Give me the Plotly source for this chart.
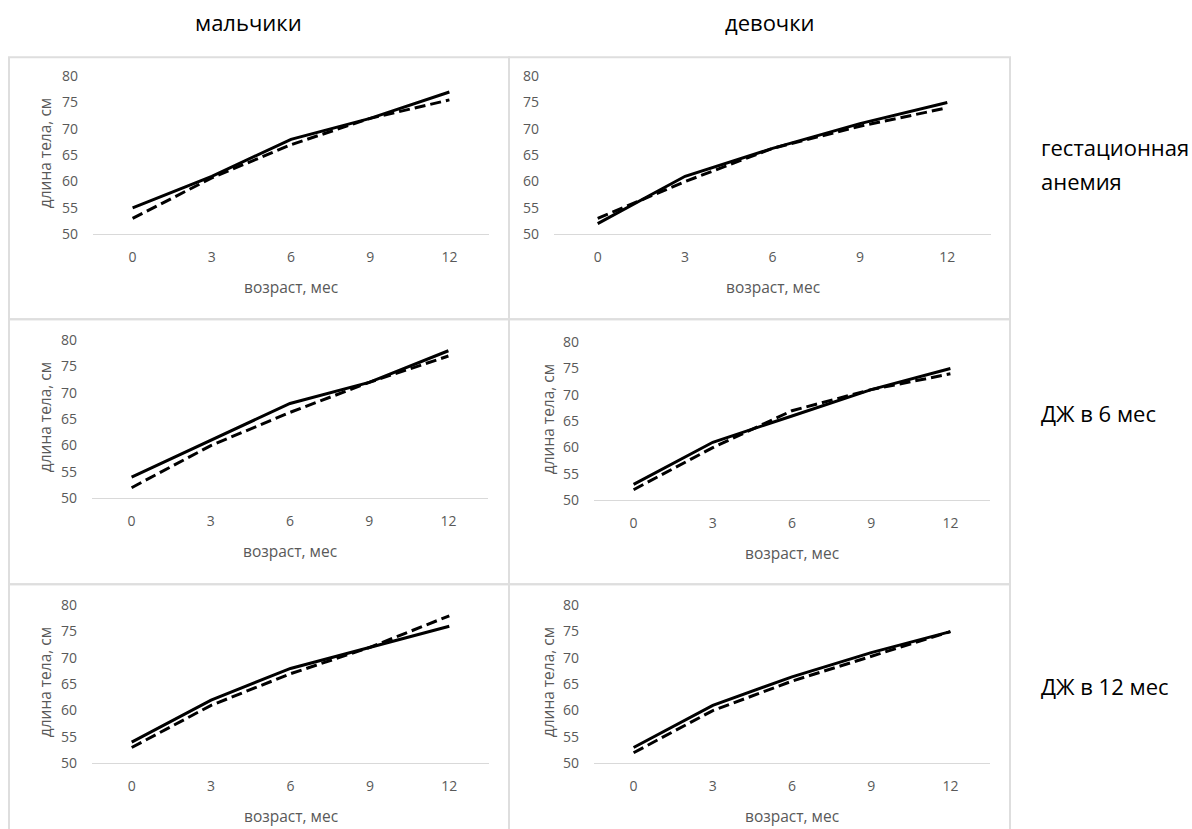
import plotly.graph_objects as go

W, H = 1192, 829

# ---- data ----
ages = [0, 3, 6, 9, 12]
tick_vals_y = [50, 55, 60, 65, 70, 75, 80]

boys_anemia_solid = [55, 61, 68, 72, 77]
boys_anemia_dash = [53, 60.7, 67, 72, 75.5]
girls_anemia_solid = [52, 61, 66.3, 71, 75]
girls_anemia_dash = [53, 60, 66.3, 70.5, 74]
boys_m6_solid = [54, 61, 68, 72, 78]
boys_m6_dash = [52, 60, 66.3, 72, 77]
girls_m6_solid = [53, 61, 66, 71, 75]
girls_m6_dash = [52, 60, 67, 71, 74]
boys_m12_solid = [54, 62, 68, 72, 76]
boys_m12_dash = [53, 61, 67, 72, 78]
girls_m12_solid = [53, 61, 66.4, 71, 75]
girls_m12_dash = [52, 60, 65.6, 70.3, 75]

col_titles = ["мальчики", "девочки"]
row_title_lines = [["гестационная", "анемия"], ["ДЖ в 6 мес"], ["ДЖ в 12 мес"]]
x_title = "возраст, мес"
y_title = "длина тела, см"

FONT = "Open Sans"
TXT = "#595959"
GRID = "#D9D9D9"

# the captured picture maps figure y to picture y as OFF + SC * y
OFF, SC = 9.8, 0.977


def fx(px):
    return px / W


def fy(py):
    yf = (py - OFF) / SC
    return 1 - yf / H


# panel geometry (target pixels): x0, x1 of plot area, y of 80, y of 50, y-title x
panels = [
    dict(x0=93, x1=489, ytop=76, ybot=234, ytx=45, s=boys_anemia_solid, d=boys_anemia_dash),
    dict(x0=554, x1=991, ytop=76, ybot=234, ytx=None, s=girls_anemia_solid, d=girls_anemia_dash),
    dict(x0=92, x1=488, ytop=340, ybot=498, ytx=45, s=boys_m6_solid, d=boys_m6_dash),
    dict(x0=594, x1=990, ytop=342, ybot=500, ytx=548, s=girls_m6_solid, d=girls_m6_dash),
    dict(x0=92, x1=489, ytop=605, ybot=763, ytx=45, s=boys_m12_solid, d=boys_m12_dash),
    dict(x0=594, x1=990, ytop=605, ybot=763, ytx=548, s=girls_m12_solid, d=girls_m12_dash),
]

fig = go.Figure()
annotations = []
shapes = []

for i, p in enumerate(panels, start=1):
    xa = "x" if i == 1 else f"x{i}"
    ya = "y" if i == 1 else f"y{i}"
    fig.add_trace(go.Scatter(x=ages, y=p["s"], mode="lines", xaxis=xa, yaxis=ya,
                             line=dict(color="black", width=3), showlegend=False,
                             name="основная группа"))
    fig.add_trace(go.Scatter(x=ages, y=p["d"], mode="lines", xaxis=xa, yaxis=ya,
                             line=dict(color="black", width=3, dash="11px,5px"),
                             showlegend=False, name="группа сравнения"))
    xkey = "xaxis" if i == 1 else f"xaxis{i}"
    ykey = "yaxis" if i == 1 else f"yaxis{i}"
    fig.layout[xkey] = dict(
        domain=[fx(p["x0"]), fx(p["x1"])], anchor=ya, range=[-1.5, 13.5],
        tickvals=ages, showgrid=False, zeroline=False, showline=True,
        linecolor=GRID, linewidth=1, ticks="", ticklabelstandoff=10,
        tickfont=dict(family=FONT, size=14, color=TXT), fixedrange=True)
    fig.layout[ykey] = dict(
        domain=[fy(p["ybot"]), fy(p["ytop"])], anchor=xa, range=[50, 80],
        tickvals=tick_vals_y, showgrid=False, zeroline=False, showline=False,
        ticks="", ticklabelstandoff=14,
        tickfont=dict(family=FONT, size=14, color=TXT), fixedrange=True)
    annotations.append(dict(text=x_title, xref="paper", yref="paper",
                            x=fx((p["x0"] + p["x1"]) / 2), y=fy(p["ybot"] + 53),
                            xanchor="center", yanchor="middle", showarrow=False,
                            font=dict(family=FONT, size=15.5, color=TXT)))
    if p["ytx"] is not None:
        annotations.append(dict(text=y_title, xref="paper", yref="paper",
                                x=fx(p["ytx"]), y=fy((p["ytop"] + p["ybot"]) / 2 - 2),
                                xanchor="center", yanchor="middle", showarrow=False,
                                textangle=-90,
                                font=dict(family=FONT, size=15.5, color=TXT)))

# panel borders
boxes = [
    (9, 57, 509, 319), (509, 57, 1010, 319),
    (9, 319, 509, 584), (509, 319, 1010, 584),
    (9, 584, 509, 860), (509, 584, 1010, 860),
]
for (x0, y0, x1, y1) in boxes:
    shapes.append(dict(type="rect", xref="paper", yref="paper",
                       x0=fx(x0), x1=fx(x1), y0=fy(y1), y1=fy(y0),
                       line=dict(color="#DEDEDE", width=2), layer="below"))

# column titles
for cx, t in zip([248, 770], col_titles):
    annotations.append(dict(text=t, xref="paper", yref="paper", x=fx(cx), y=fy(22),
                            xanchor="center", yanchor="middle", showarrow=False,
                            font=dict(family=FONT, size=22, color="black")))

# row titles (one annotation per text line)
row_line_y = [[147, 181], [413], [686]]
for lines, ys in zip(row_title_lines, row_line_y):
    for t, cy in zip(lines, ys):
        annotations.append(dict(text=t, xref="paper", yref="paper", x=fx(1039), y=fy(cy),
                                xanchor="left", yanchor="middle", align="left",
                                showarrow=False,
                                font=dict(family=FONT, size=22, color="black")))

fig.update_layout(width=W, height=H, margin=dict(l=0, r=0, t=0, b=0),
                  paper_bgcolor="white", plot_bgcolor="white",
                  annotations=annotations, shapes=shapes)

post = ("var d=document.getElementById('{plot_id}');"
        "d.style.position='fixed';d.style.left='0px';d.style.top='0px';"
        "document.body.style.margin='0';document.body.style.overflow='hidden';")
fig.write_html("out.html", post_script=post, config={"displayModeBar": False})
